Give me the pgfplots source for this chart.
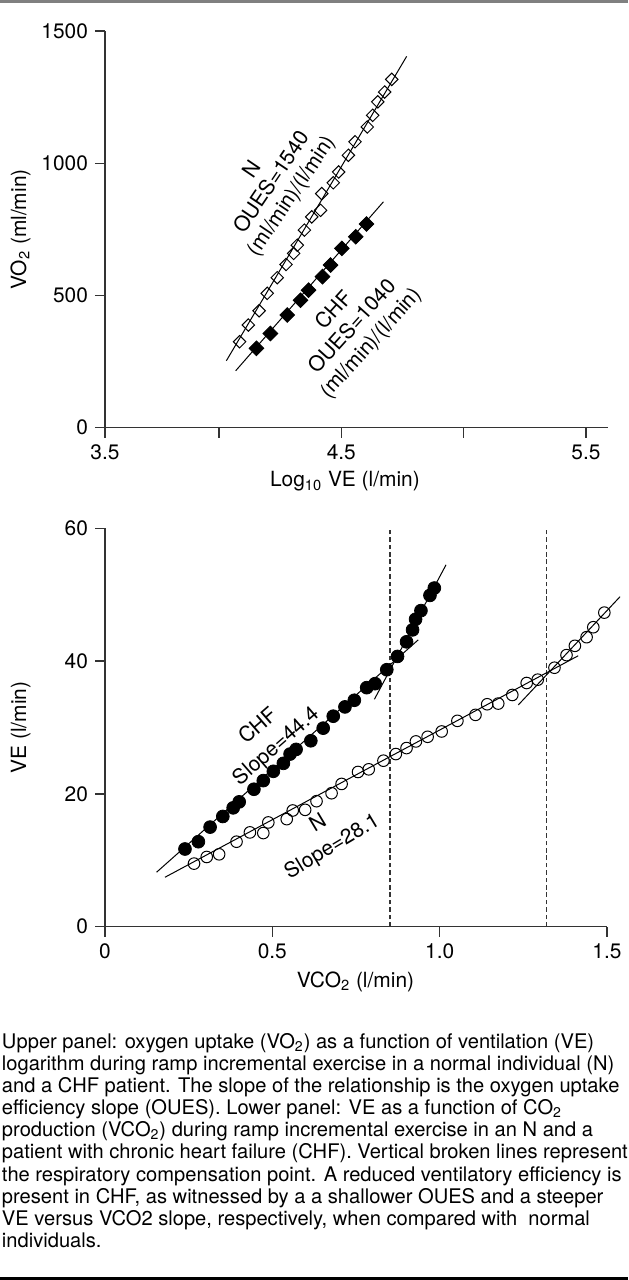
\documentclass[border=0pt]{standalone}
\usepackage{fontspec}
\setmainfont{TeX Gyre Heros}
\usepackage{pgfplots}
\pgfplotsset{compat=1.18}
\definecolor{axgray}{HTML}{333333}
\definecolor{dashgray}{HTML}{333333}
\pgfplotsset{
  myax/.style={
    scale only axis, clip=false,
    axis lines*=left,
    axis line style={line width=0.7bp, color=axgray},
    tick style={line width=0.7bp, color=axgray},
    tick align=outside, major tick length=5bp,
    ticklabel style={font=\fontsize{10.5}{12}\selectfont},
    label style={font=\fontsize{10.5}{12}\selectfont},
    /pgf/number format/assume math mode=true,
    /pgf/number format/1000 sep={},
    scaled ticks=false,
  },
  fitline/.style={no marks, black, line width=0.5bp},
}
\begin{document}
\begin{tikzpicture}[x=1bp,y=1bp]
\useasboundingbox (0,0) rectangle (314,640);
\draw[line width=1.2bp, black!50] (0,639.2) -- (314,639.2);
\fill[black] (0,0) rectangle (314,1.7);

% ---------- upper panel ----------
\begin{axis}[myax,
  at={(52.5bp,426.15bp)}, anchor=south west,
  width=251.5bp, height=198.35bp,
  xmin=3.534, xmax=5.59, ymin=0, ymax=1500,
  xtick={3.534,4,4.5,5,5.5}, xticklabels={3.5,,4.5,,5.5},
  ytick={0,500,1000,1500},
  xlabel={Log\textsubscript{10} VE (l/min)},
  ylabel={VO\textsubscript{2} (ml/min)},
  xlabel style={at={(axis description cs:0.477,-0.136)}, anchor=center},
  ylabel style={at={(axis description cs:-0.168,0.5)}, anchor=center},
]
\addplot[fitline] coordinates {(4.030,253) (4.767,1404)};
\addplot[fitline] coordinates {(4.068,215) (4.672,854)};
\addplot[only marks, mark=square, mark size=2.2bp,
  mark options={rotate=45, draw=black, line width=0.5bp}] coordinates {
(4.084,325) (4.120,388) (4.164,442) (4.197,508) (4.238,567) (4.274,617)
(4.305,659) (4.320,690) (4.349,747) (4.379,797) (4.415,822) (4.420,885)
(4.467,926) (4.489,967) (4.529,1030) (4.556,1081) (4.606,1137) (4.628,1181)
(4.649,1232) (4.677,1269) (4.706,1317)};
\addplot[only marks, mark=square*, mark size=2.6bp,
  mark options={rotate=45, fill=black, draw=black}] coordinates {
(4.153,300) (4.210,356) (4.279,426) (4.333,482) (4.366,520) (4.423,571)
(4.456,615) (4.502,678) (4.559,722) (4.603,770)};
\node[rotate=56, align=center, font=\fontsize{10.5}{11.8}\selectfont, inner sep=0]
  at (axis cs:4.220,925) {N\\OUES=1540\\(ml/min)/(l/min)};
\node[rotate=48, align=center, font=\fontsize{10.5}{12.3}\selectfont, inner sep=0]
  at (axis cs:4.549,380) {CHF\\OUES=1040\\(ml/min)/(l/min)};
\end{axis}

% ---------- lower panel ----------
\begin{axis}[myax,
  at={(52.5bp,176.65bp)}, anchor=south west,
  width=251bp, height=199.2bp,
  xmin=0, xmax=1.5, ymin=0, ymax=60,
  xtick={0,0.5,1,1.5}, xticklabels={0,0.5,1.0,1.5},
  ytick={0,20,40,60},
  xlabel={VCO\textsubscript{2} (l/min)},
  ylabel={VE (l/min)},
  xlabel style={at={(axis description cs:0.499,-0.138)}, anchor=center},
  ylabel style={at={(axis description cs:-0.168,0.5)}, anchor=center},
]
\addplot[no marks, dashgray, line width=0.65bp, dash pattern=on 2.3bp off 1.4bp]
  coordinates {(0.852,0) (0.852,60)};
\addplot[no marks, dashgray, line width=0.65bp, dash pattern=on 2.3bp off 1.4bp]
  coordinates {(1.320,0) (1.320,60)};
\addplot[fitline] coordinates {(0.154,8.2) (0.936,43.2)};
\addplot[fitline] coordinates {(0.805,34.25) (1.019,54.5)};
\addplot[fitline] coordinates {(0.179,7.44) (1.414,40.8)};
\addplot[fitline] coordinates {(1.235,33.4) (1.539,49.7)};
\addplot[only marks, mark=*, mark size=3.2bp, mark options={fill=black, draw=black}] coordinates {
(0.239,11.7) (0.279,12.8) (0.314,15.0) (0.352,16.6) (0.383,17.9) (0.401,18.8)
(0.445,20.7) (0.473,22.0) (0.503,23.4) (0.533,24.6) (0.553,26.0) (0.571,26.7)
(0.615,28.0) (0.652,29.9) (0.682,31.7) (0.717,33.1) (0.745,34.1) (0.782,36.0)
(0.807,36.6) (0.842,38.7) (0.874,40.7) (0.901,42.9) (0.919,44.7) (0.928,46.3)
(0.944,47.6) (0.971,49.9) (0.984,51.0)};
\addplot[only marks, mark=o, mark size=2.9bp, mark options={draw=black, line width=0.5bp}] coordinates {
(0.266,9.5) (0.304,10.5) (0.341,10.9) (0.393,12.8) (0.433,14.2) (0.473,14.1)
(0.488,15.7) (0.543,16.2) (0.561,17.5) (0.598,17.6) (0.632,18.9) (0.677,20.1)
(0.707,21.5) (0.756,23.3) (0.788,23.7) (0.832,25.0) (0.869,26.0) (0.901,26.9)
(0.929,27.9) (0.964,28.6) (1.006,29.4) (1.053,31.0) (1.107,31.9) (1.142,33.5)
(1.175,33.6) (1.217,34.9) (1.260,36.7) (1.293,37.2) (1.343,39.0) (1.379,40.9)
(1.404,42.3) (1.439,43.6) (1.459,45.1) (1.492,47.3)};
\node[rotate=41, align=center, font=\fontsize{10.5}{13.5}\selectfont, inner sep=0]
  at (axis cs:0.4855,28.6) {CHF\\Slope=44.4};
\node[rotate=31, align=center, font=\fontsize{10.5}{13.5}\selectfont, inner sep=0]
  at (axis cs:0.659,13.7) {N\\Slope=28.1};
\end{axis}

% ---------- caption ----------
\node[anchor=base west, inner sep=0] at (0.8,115.85) {\parbox[t]{330bp}{\fontsize{10.1}{11.1}\selectfont\raggedright
Upper panel: oxygen uptake (VO\textsubscript{2}) as a function of ventilation (VE)\\
logarithm during ramp incremental exercise in a normal individual (N)\\
and a CHF patient. The slope of the relationship is the oxygen uptake\\
efficiency slope (OUES). Lower panel: VE as a function of CO\textsubscript{2}\\
production (VCO\textsubscript{2}) during ramp incremental exercise in an N and a\\
patient with chronic heart failure (CHF). Vertical broken lines represent\\
the respiratory compensation point. A reduced ventilatory efficiency is\\
present in CHF, as witnessed by a a shallower OUES and a steeper\\
VE versus VCO2 slope, respectively, when compared with\ \ normal\\
individuals.}};
\end{tikzpicture}
\end{document}
